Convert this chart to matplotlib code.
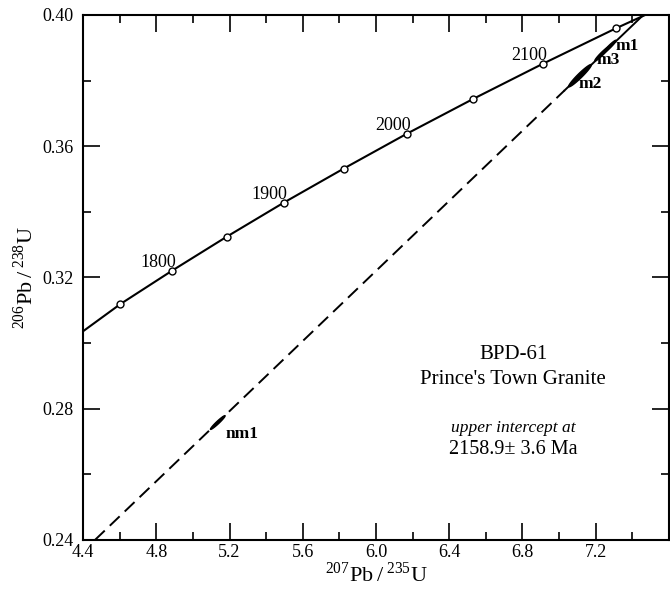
import numpy as np
import matplotlib
matplotlib.use('Agg')
import matplotlib.pyplot as plt
from matplotlib.ticker import MultipleLocator

# concordia age marks (Ma) and their positions
ages = [1750, 1800, 1850, 1900, 1950, 2000, 2050, 2100, 2150]
conc_x = [4.604, 4.887, 5.184, 5.496, 5.824, 6.168, 6.530, 6.910, 7.309]
conc_y = [0.3119, 0.3221, 0.3324, 0.3428, 0.3532, 0.3638, 0.3744, 0.3851, 0.3959]
labelled = [1800, 1900, 2000, 2100]
# concordia ends at the frame
conc_start = (4.40, 0.3036)
conc_end = (7.47, 0.400)

# discordia end points (frame edges)
disc_x = [4.465, 7.46]
disc_y = [0.240, 0.400]
solid_from = 7.03

# analyses: name, x, sx, y, sy, rho
spots = ['nm1', 'm2', 'm3', 'm1']
spot_x = [5.136, 7.114, 7.235, 7.275]
spot_sx = [0.040, 0.062, 0.040, 0.036]
spot_y = [0.2758, 0.3815, 0.3882, 0.3903]
spot_sy = [0.0021, 0.0034, 0.0022, 0.0020]
spot_rho = [0.965, 0.96, 0.96, 0.96]
spot_lab = [(5.27, 0.2722), (7.17, 0.3790), (7.27, 0.3863), (7.37, 0.3906)]

plt.rcParams['font.family'] = ['Liberation Serif', 'DejaVu Serif']
plt.rcParams['mathtext.fontset'] = 'custom'
plt.rcParams['mathtext.rm'] = 'Liberation Serif'

fig = plt.figure(figsize=(6.70, 5.99), dpi=100)
ax = fig.add_axes([0.1239, 0.0985, 0.8746, 0.8765])

# concordia
cx = [conc_start[0]] + conc_x + [conc_end[0]]
cy = [conc_start[1]] + conc_y + [conc_end[1]]
ax.plot(cx, cy, color='black', lw=1.5, zorder=3)
ax.plot(conc_x, conc_y, 'o', ms=5, mfc='white', mec='black', mew=1.0, zorder=4)
for a, x, y in zip(ages, conc_x, conc_y):
    if a in labelled:
        ax.annotate(str(a), (x, y), xytext=(-10, 6), textcoords='offset points',
                    ha='center', va='center', fontsize=13)

# discordia: dashed below, solid through the data
slope = (disc_y[1] - disc_y[0]) / (disc_x[1] - disc_x[0])
ys = disc_y[0] + slope * (solid_from - disc_x[0])
ax.plot([disc_x[0], solid_from], [disc_y[0], ys], color='black', lw=1.4,
        dashes=(7.0, 3.6), zorder=2)
ax.plot([solid_from, disc_x[1]], [ys, disc_y[1]], color='black', lw=1.4, zorder=2)

# error ellipses
t = np.linspace(0, 2 * np.pi, 120)
for x, sx, y, sy, r in zip(spot_x, spot_sx, spot_y, spot_sy, spot_rho):
    cov = np.array([[sx * sx, r * sx * sy], [r * sx * sy, sy * sy]])
    L = np.linalg.cholesky(cov)
    pts = L @ np.vstack([np.cos(t), np.sin(t)])
    ax.fill(x + pts[0], y + pts[1], color='black', zorder=5)
for name, (lx, ly) in zip(spots, spot_lab):
    ax.text(lx, ly, name, fontsize=12.5, fontweight='bold', ha='center', va='center')

# sample text
ax.text(6.75, 0.2964, 'BPD-61', fontsize=15, ha='center', va='center')
ax.text(6.75, 0.2888, "Prince's Town Granite", fontsize=15, ha='center', va='center')
ax.text(6.75, 0.2741, 'upper intercept at', fontsize=12.5, style='italic', ha='center', va='center')
ax.text(6.75, 0.2677, '2158.9\u00b1 3.6 Ma', fontsize=14.5, ha='center', va='center')

ax.set_xlim(4.4, 7.6)
ax.set_ylim(0.24, 0.40)
ax.xaxis.set_major_locator(MultipleLocator(0.4))
ax.xaxis.set_minor_locator(MultipleLocator(0.2))
ax.yaxis.set_major_locator(MultipleLocator(0.04))
ax.yaxis.set_minor_locator(MultipleLocator(0.02))
ax.xaxis.set_major_formatter(plt.FuncFormatter(lambda v, p: '' if v > 7.5 else '%.1f' % v))
ax.yaxis.set_major_formatter(plt.FuncFormatter(lambda v, p: '%.2f' % v))
ax.tick_params(which='both', direction='in', top=True, right=True, width=1.2, labelsize=13)
ax.tick_params(which='major', length=12)
ax.tick_params(which='minor', length=6)
ax.tick_params(axis='x', which='major', pad=3)
ax.tick_params(axis='y', which='major', pad=7)
for s in ax.spines.values():
    s.set_linewidth(1.5)

ax.set_xlabel(r'$^{207}$Pb$\,/\,^{235}$U', fontsize=16, labelpad=1)
ax.set_ylabel(r'$^{206}$Pb$\,/\,^{238}$U', fontsize=16, labelpad=3)

fig.savefig('out.png', dpi=100)
